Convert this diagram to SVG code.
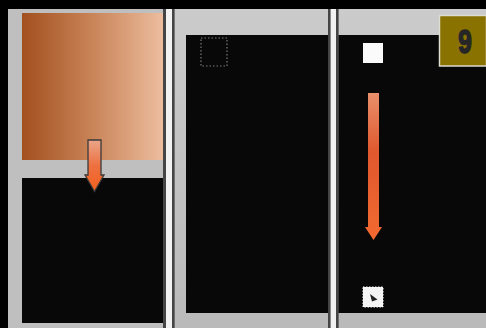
<svg xmlns="http://www.w3.org/2000/svg" width="486" height="328" viewBox="0 0 486 328">
<defs>
<linearGradient id="copper" x1="0" y1="0" x2="1" y2="0">
<stop offset="0" stop-color="#a3501f"/>
<stop offset="0.5" stop-color="#c98458"/>
<stop offset="1" stop-color="#ecbd9e"/>
</linearGradient>
<linearGradient id="orange1" x1="0" y1="0" x2="0" y2="1">
<stop offset="0" stop-color="#eaa68a"/>
<stop offset="0.5" stop-color="#ee7040"/>
<stop offset="1" stop-color="#f2601e"/>
</linearGradient>
<linearGradient id="orange2" x1="0" y1="0" x2="0" y2="1">
<stop offset="0" stop-color="#e9906c"/>
<stop offset="0.4" stop-color="#e0582e"/>
<stop offset="1" stop-color="#f26a30"/>
</linearGradient>
<linearGradient id="topgray" x1="0" y1="0" x2="0" y2="1">
<stop offset="0" stop-color="#cbcbcb"/>
<stop offset="1" stop-color="#bababa"/>
</linearGradient>
<filter id="soft" x="-20%" y="-20%" width="140%" height="140%">
<feGaussianBlur stdDeviation="0.6"/>
</filter>
</defs>
<style>
.gray{fill:#bfbfbf}
.blk{fill:#080808}
.dark{fill:#454545}
.sep{fill:#f2f2f2}
</style>
<rect x="0" y="0" width="486" height="328" fill="#000"/>
<g id="panel1">
<rect class="gray" x="8" y="9" width="156" height="319"/>
<rect x="22" y="13" width="141" height="147" fill="url(#copper)"/>
<rect class="blk" x="22" y="178" width="141" height="145"/>
<rect class="dark" x="163" y="9" width="3" height="319"/>
</g>
<g id="separator1">
<rect class="sep" x="166" y="9" width="6" height="319"/>
</g>
<g id="panel2">
<rect class="dark" x="172" y="9" width="2.5" height="319"/>
<rect x="174.5" y="9" width="154" height="319" fill="url(#topgray)"/>
<rect class="blk" x="186" y="35" width="142" height="278"/>
<rect x="201" y="38" width="26" height="28" fill="none" stroke="#7a7a7a" stroke-width="1.2" stroke-dasharray="1.5 2"/>
<rect class="dark" x="328" y="9" width="2.5" height="319"/>
</g>
<g id="separator2">
<rect class="sep" x="330.5" y="9" width="5.5" height="319"/>
</g>
<g id="panel3">
<rect class="dark" x="336" y="9" width="2.5" height="319"/>
<rect x="338.5" y="9" width="148" height="319" fill="url(#topgray)"/>
<rect class="blk" x="338.5" y="35" width="148" height="278"/>
<rect x="363" y="43" width="20" height="20" fill="#fafafa" filter="url(#soft)"/>
<rect x="363" y="287" width="20" height="20" fill="#f4f4f4" stroke="#ffffff" stroke-width="1" stroke-dasharray="1.5 1.5" filter="url(#soft)"/>
<polygon points="370,294 377.5,299.5 372,301.5" fill="#222"/>
</g>
<g id="badge">
<rect x="439.5" y="15.5" width="47" height="50.5" fill="#8a7200" stroke="#dcdcd0" stroke-width="1.5"/>
<text x="0" y="0" transform="translate(465,52.5) scale(0.74,1)" text-anchor="middle" font-family="Liberation Sans, Arial, sans-serif" font-weight="bold" font-size="33" fill="#262626" stroke="#262626" stroke-width="1.6" stroke-linejoin="round">9</text>
</g>
<g id="connectors">
<polygon points="88,140 101,140 101,175 104,175 94.5,191.5 85,175 88,175" fill="url(#orange1)" stroke="#3a3a3a" stroke-width="1.3" stroke-linejoin="miter"/>
<polygon points="368,93 379,93 379,227 382,227 373.5,240 365,227 368,227" fill="url(#orange2)"/>
</g>
</svg>
